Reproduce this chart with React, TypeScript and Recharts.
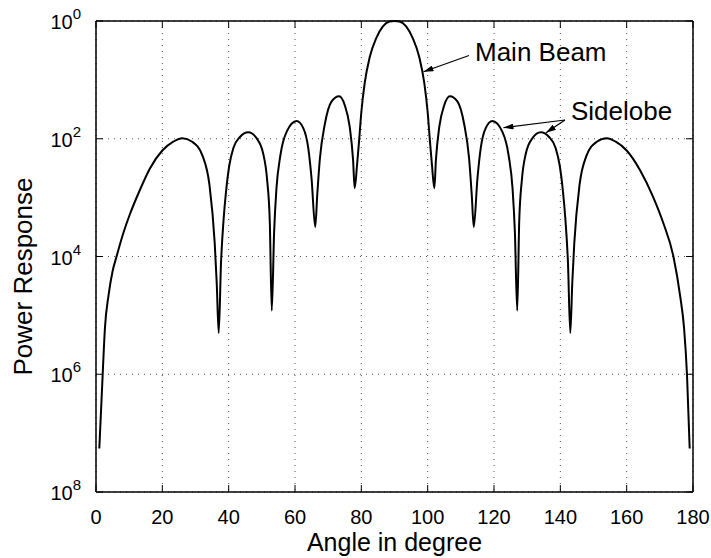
import { LineChart, Line, XAxis, YAxis, CartesianGrid, ReferenceLine, Label } from 'recharts';

// angle (deg) and power response, as decades below 1 (10^k)
const angleDeg = [
  1.0, 2.0, 2.7, 3.8, 5.0, 6.2, 8.2, 10.3, 13.0, 16.3, 20.0, 23.3, 26.0, 29.0, 32.2, 34.2, 35.8, 36.4, 37.0,
  37.7, 38.5, 39.2, 40.2, 41.4, 43.4, 45.9, 48.4, 50.4, 51.6, 52.4, 53.0,
  53.7, 54.4, 55.6, 57.5, 60.5, 62.5, 64.0, 65.0, 66.1,
  66.7, 67.5, 69.0, 71.0, 73.3, 75.0, 76.5, 77.5, 78.0,
  78.7, 79.3, 80.0, 81.0, 82.5, 84.5, 86.5, 88.5, 90.0, 91.5, 93.5, 95.5, 97.5, 99.0, 100.0, 100.7, 101.3, 102.0,
  102.5, 103.5, 105.0, 106.7, 109.0, 111.0, 112.5, 113.3, 113.9,
  115.0, 116.0, 117.5, 119.5, 122.5, 124.4, 125.6, 126.3, 127.0,
  127.6, 128.4, 129.6, 131.6, 134.1, 136.6, 138.6, 139.8, 140.8, 141.5, 142.3, 143.0,
  143.6, 144.2, 145.8, 147.8, 151.0, 154.0, 156.7, 160.0, 164.0, 168.0, 171.1, 174.1, 176.2, 177.3, 178.2, 179.0,
];

const powerDecades = [
  7.26, 6.02, 5.21, 4.65, 4.25, 4.0, 3.61, 3.27, 2.9, 2.5, 2.2, 2.05, 1.99, 2.05, 2.3, 2.78, 3.78, 4.45, 5.3,
  4.1, 3.35, 2.9, 2.45, 2.16, 1.97, 1.89, 1.99, 2.25, 2.7, 3.41, 4.92,
  3.59, 2.85, 2.28, 1.88, 1.7, 1.82, 2.16, 2.68, 3.5,
  2.96, 2.34, 1.75, 1.37, 1.28, 1.43, 1.8, 2.35, 2.84,
  2.45, 2.05, 1.55, 1.06, 0.62, 0.29, 0.09, 0.01, 0.0, 0.01, 0.09, 0.29, 0.62, 1.06, 1.55, 2.05, 2.45, 2.84,
  2.35, 1.8, 1.43, 1.28, 1.37, 1.75, 2.34, 2.96, 3.5,
  2.68, 2.16, 1.82, 1.7, 1.88, 2.28, 2.85, 3.59, 4.92,
  3.41, 2.7, 2.25, 1.99, 1.89, 1.97, 2.16, 2.45, 2.9, 3.35, 4.1, 5.3,
  4.45, 3.78, 2.78, 2.3, 2.05, 1.99, 2.05, 2.2, 2.53, 2.99, 3.44, 4.0, 4.7, 5.21, 6.02, 7.26,
];

const xTicks = [0, 20, 40, 60, 80, 100, 120, 140, 160, 180];
const yTicks = [0, 2, 4, 6, 8];

const data = angleDeg.map((a, i) => ({ angle: a, decades: powerDecades[i] }));

const FONT = "'Liberation Sans', Arial, Helvetica, sans-serif";
const PLOT_W = 597;
const PLOT_H = 471;
const TICK_LEN = 7;

function XTick(props: any) {
  const { x, y, payload } = props;
  return (
    <g>
      <line x1={x} x2={x} y1={y} y2={y - TICK_LEN} stroke="#000" strokeWidth={1} />
      <line x1={x} x2={x} y1={y - PLOT_H} y2={y - PLOT_H + TICK_LEN} stroke="#000" strokeWidth={1} />
      <text x={x} y={y + 32} textAnchor="middle" fontSize={20} fontFamily={FONT} fill="#000">
        {payload.value}
      </text>
    </g>
  );
}

function YTick(props: any) {
  const { x, y, payload } = props;
  return (
    <g>
      <line x1={x} x2={x + TICK_LEN} y1={y} y2={y} stroke="#000" strokeWidth={1} />
      <line x1={x + PLOT_W} x2={x + PLOT_W - TICK_LEN} y1={y} y2={y} stroke="#000" strokeWidth={1} />
      <text x={x - 15} y={y + 8} textAnchor="end" fontSize={20} fontFamily={FONT} fill="#000">
        10
        <tspan dy={-10} fontSize={15}>
          {payload.value}
        </tspan>
      </text>
    </g>
  );
}

function Arrow({ x1, y1, x2, y2 }: { x1: number; y1: number; x2: number; y2: number }) {
  return <line x1={x1} y1={y1} x2={x2} y2={y2} stroke="#000" strokeWidth={1.2} markerEnd="url(#head)" />;
}

export default function App() {
  return (
    <div style={{ position: 'absolute', left: 0, top: 0, width: 711, height: 558, background: '#fff' }}>
      <LineChart width={711} height={558} data={data} margin={{ top: 21, right: 18, bottom: 0, left: 0 }}>
        <CartesianGrid strokeDasharray="1 5" stroke="#555" strokeWidth={1} />
        <XAxis
          dataKey="angle"
          type="number"
          domain={[0, 180]}
          ticks={xTicks}
          interval={0}
          height={66}
          tickSize={0}
          tickMargin={0}
          tickLine={false}
          tick={<XTick />}
          axisLine={{ stroke: '#000', strokeWidth: 1.5 }}
        >
          <Label
            content={({ viewBox }: any) => (
              <text
                x={viewBox.x + viewBox.width / 2}
                y={viewBox.y + 59}
                textAnchor="middle"
                fontSize={25}
                fontFamily={FONT}
                fill="#000"
              >
                Angle in degree
              </text>
            )}
          />
        </XAxis>
        <YAxis
          type="number"
          domain={[0, 8]}
          reversed
          ticks={yTicks}
          interval={0}
          width={96}
          tickSize={0}
          tickMargin={0}
          tickLine={false}
          tick={<YTick />}
          axisLine={{ stroke: '#000', strokeWidth: 1.5 }}
        >
          <Label
            content={({ viewBox }: any) => {
              const cx = viewBox.x + 32;
              const cy = viewBox.y + viewBox.height / 2 + 20;
              return (
                <text
                  x={cx}
                  y={cy}
                  transform={`rotate(-90 ${cx} ${cy})`}
                  textAnchor="middle"
                  fontSize={26}
                  fontFamily={FONT}
                  fill="#000"
                >
                  Power Response
                </text>
              );
            }}
          />
        </YAxis>
        <ReferenceLine y={0} stroke="#000" strokeWidth={1.5} ifOverflow="visible" />
        <ReferenceLine x={180} stroke="#000" strokeWidth={1.5} ifOverflow="visible" />
        <Line
          type="monotone"
          dataKey="decades"
          stroke="#000"
          strokeWidth={2}
          dot={false}
          isAnimationActive={false}
        />
      </LineChart>
      <svg
        width={711}
        height={558}
        style={{ position: 'absolute', left: 0, top: 0, pointerEvents: 'none' }}
      >
        <defs>
          <marker id="head" viewBox="0 0 10 6" refX="10" refY="3" markerWidth="10" markerHeight="6" markerUnits="userSpaceOnUse" orient="auto">
            <path d="M0,0 L10,3 L0,6 z" fill="#000" />
          </marker>
        </defs>
        <Arrow x1={469} y1={55.5} x2={423.5} y2={71.7} />
        <text x={475} y={61} fontSize={26} fontFamily={FONT} fill="#000">
          Main Beam
        </text>
        <Arrow x1={565} y1={120} x2={503.5} y2={127.7} />
        <Arrow x1={565} y1={120} x2={546} y2={132.7} />
        <text x={571} y={120} fontSize={26} fontFamily={FONT} fill="#000">
          Sidelobe
        </text>
      </svg>
    </div>
  );
}
